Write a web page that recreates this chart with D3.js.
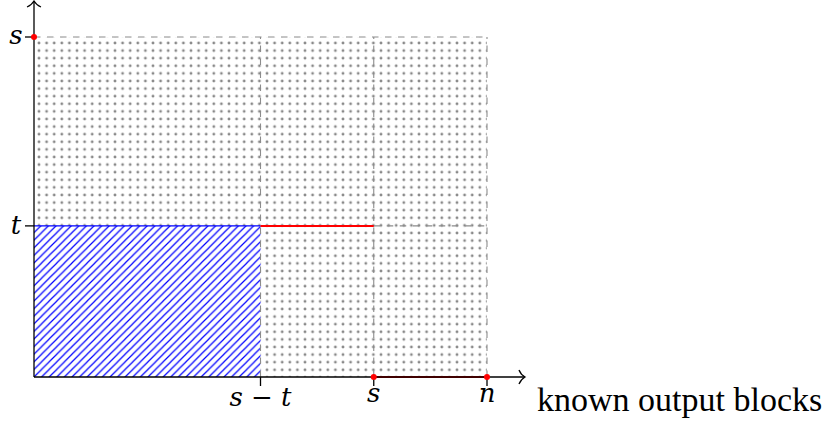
<!DOCTYPE html>
<html>
<head>
<meta charset="utf-8">
<script src="https://cdn.jsdelivr.net/npm/d3@7"></script>
<style>
  body { margin: 0; background: #fff; }
  svg text { font-family: "Liberation Serif", "DejaVu Serif", serif; fill: #000; }
  .lbl { font-family: "DejaVu Serif", serif; font-style: italic; }
</style>
</head>
<body>
<div id="chart"></div>
<script>
// axis positions (in abstract units)
const xTicks = [
  { key: "smt", label: "s − t", v: 2 },
  { key: "s", label: "s", v: 3 },
  { key: "n", label: "n", v: 4 }
];
const yTicks = [
  { key: "t", label: "t", v: 4 },
  { key: "s", label: "s", v: 9 }
];
const xMax = 4, yMax = 9;
const xTitle = "known output blocks";

// red segments: [x0, y0, x1, y1]
const redSegments = [
  [2, 4, 3, 4],
  [3, 0, 4, 0]
];
const redPoints = [[0, 9], [3, 0], [4, 0]];

// dashed grid frame
const dashedLines = [
  [0, 9, 4, 9],
  [2, 0, 2, 9],
  [3, 0, 3, 9],
  [4, 0, 4, 9],
  [3, 4, 4, 4]
];

const width = 828, height = 423;
const x = d3.scaleLinear().domain([0, xMax]).range([34, 487]);
const y = d3.scaleLinear().domain([0, yMax]).range([377, 37]);

const svg = d3.select("#chart").append("svg")
  .attr("width", width)
  .attr("height", height)
  .attr("viewBox", [0, 0, width, height]);

const defs = svg.append("defs");

// dots pattern
const dotStep = 7.6;
const dots = defs.append("pattern")
  .attr("id", "dots")
  .attr("patternUnits", "userSpaceOnUse")
  .attr("x", x(0) + 5 - dotStep / 2)
  .attr("y", y(yMax) + 6 - dotStep / 2)
  .attr("width", dotStep)
  .attr("height", dotStep);
dots.append("circle")
  .attr("cx", dotStep / 2).attr("cy", dotStep / 2)
  .attr("r", 1.4).attr("fill", "#888");

// hatch pattern (north east lines)
const hs = 7.6;
const hatch = defs.append("pattern")
  .attr("id", "hatch")
  .attr("patternUnits", "userSpaceOnUse")
  .attr("x", x(0)).attr("y", y(0))
  .attr("width", hs).attr("height", hs);
hatch.append("path")
  .attr("d", `M${-hs},${hs * 2}L${hs * 2},${-hs}M${-hs},${hs}L${hs},${-hs}M0,${hs * 2}L${hs * 2},0`)
  .attr("stroke", "#0000ff").attr("stroke-width", 1.2).attr("fill", "none");

// dotted area = whole box minus hatched corner
const tV = yTicks.find(d => d.key === "t").v;
const smtV = xTicks.find(d => d.key === "smt").v;
svg.append("path")
  .attr("fill", "url(#dots)")
  .attr("d", d3.line()([
    [x(0), y(yMax)], [x(xMax), y(yMax)], [x(xMax), y(0)], [x(smtV), y(0)],
    [x(smtV), y(tV)], [x(0), y(tV)]
  ]) + "Z");

// hatched rectangle
svg.append("rect")
  .attr("x", x(0)).attr("y", y(tV))
  .attr("width", x(smtV) - x(0)).attr("height", y(0) - y(tV))
  .attr("fill", "url(#hatch)");
svg.append("line")
  .attr("x1", x(0)).attr("x2", x(smtV)).attr("y1", y(tV)).attr("y2", y(tV))
  .attr("stroke", "#0000ff").attr("stroke-width", 1.2);

// dashed lines
svg.append("g").selectAll("line").data(dashedLines).join("line")
  .attr("x1", d => x(d[0])).attr("y1", d => y(d[1]))
  .attr("x2", d => x(d[2])).attr("y2", d => y(d[3]))
  .attr("stroke", "#8c8c8c").attr("stroke-width", 1.1)
  .attr("stroke-dasharray", "6.5,6.5");

// red segments
svg.append("g").selectAll("line").data(redSegments).join("line")
  .attr("x1", d => x(d[0])).attr("y1", d => y(d[1]))
  .attr("x2", d => x(d[2])).attr("y2", d => y(d[3]))
  .attr("stroke", "#ff0000").attr("stroke-width", 2);

// axes
const axisG = svg.append("g").attr("stroke", "#000").attr("stroke-width", 1.3).attr("fill", "none");
axisG.append("line").attr("x1", x(0)).attr("x2", 524).attr("y1", y(0)).attr("y2", y(0));
axisG.append("line").attr("x1", x(0)).attr("x2", x(0)).attr("y1", y(0)).attr("y2", 1);
// arrow heads
const ax = 525, ay = y(0);
axisG.append("path")
  .attr("d", `M${ax - 6},${ay - 7}C${ax - 4.5},${ay - 3} ${ax - 1},${ay - 0.6} ${ax},${ay}C${ax - 1},${ay + 0.6} ${ax - 4.5},${ay + 3} ${ax - 6},${ay + 7}`);
const bx = x(0), by = 1;
axisG.append("path")
  .attr("d", `M${bx - 7},${by + 6}C${bx - 3},${by + 4.5} ${bx - 0.6},${by + 1} ${bx},${by}C${bx + 0.6},${by + 1} ${bx + 3},${by + 4.5} ${bx + 7},${by + 6}`);

// ticks
axisG.selectAll(".xt").data(xTicks).join("line")
  .attr("x1", d => x(d.v)).attr("x2", d => x(d.v))
  .attr("y1", y(0)).attr("y2", y(0) + 9);
axisG.selectAll(".yt").data(yTicks).join("line")
  .attr("x1", x(0) - 9).attr("x2", x(0))
  .attr("y1", d => y(d.v)).attr("y2", d => y(d.v));

// red points
svg.append("g").selectAll("circle").data(redPoints).join("circle")
  .attr("cx", d => x(d[0])).attr("cy", d => y(d[1]))
  .attr("r", 3).attr("fill", "#ff0000");

// labels (node anchored at top / right like tikz, taller glyphs sit lower)
const tall = s => /[tdbhkl]/.test(s);
svg.append("g").selectAll("text").data(xTicks).join("text")
  .attr("class", "lbl")
  .attr("x", d => x(d.v)).attr("y", d => y(0) + (tall(d.label) ? 29 : 25))
  .attr("text-anchor", "middle")
  .attr("font-size", 26)
  .text(d => d.label);
svg.append("g").selectAll("text").data(yTicks).join("text")
  .attr("class", "lbl")
  .attr("x", 16).attr("y", d => y(d.v) + (tall(d.label) ? 8 : 6.5))
  .attr("text-anchor", "middle")
  .attr("font-size", 26)
  .text(d => d.label);
svg.append("text")
  .attr("x", 537).attr("y", 411)
  .attr("font-size", 34)
  .text(xTitle);
</script>
</body>
</html>
